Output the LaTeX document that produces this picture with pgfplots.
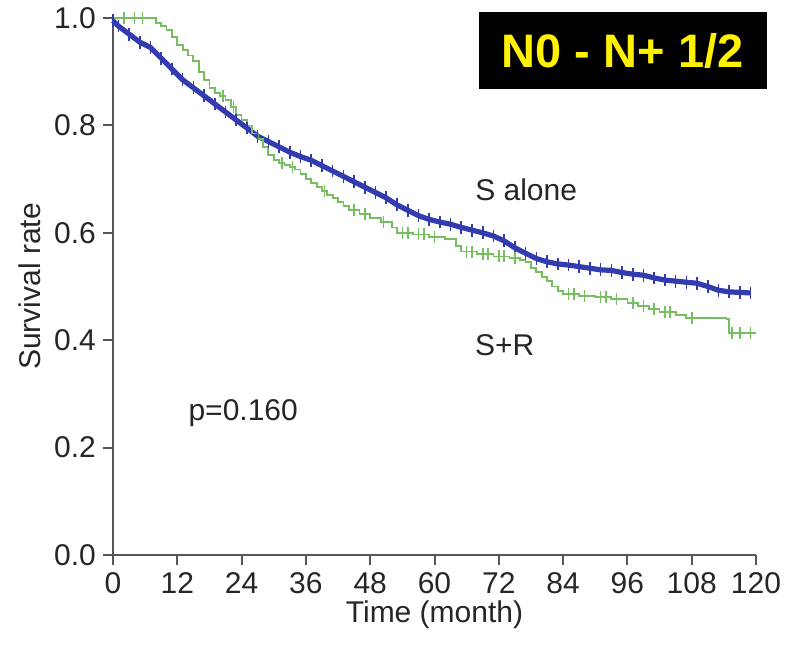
\documentclass[border=0pt]{standalone}
\usepackage{fontspec}
\setmainfont{Liberation Sans}
\usepackage{pgfplots}
\pgfplotsset{compat=1.18}
\definecolor{kmblue}{RGB}{50,60,175}
\definecolor{kmgreen}{RGB}{118,190,95}
\definecolor{axgray}{RGB}{85,85,85}
\begin{document}
\begin{tikzpicture}
\begin{axis}[
  scale only axis, width=321.5pt, height=268.5pt,
  at={(0,0)}, anchor=south west,
  xmin=0, xmax=120, ymin=0, ymax=1,
  axis x line=bottom, axis y line=left,
  axis line style={-, axgray, line width=1pt},
  every tick/.style={axgray, line width=1pt},
  tick align=outside, major tick length=5pt,
  xtick={0,12,...,120}, ytick={0,0.2,0.4,0.6,0.8,1.0},
  yticklabel style={/pgf/number format/.cd, fixed, fixed zerofill, precision=1},
  /pgf/number format/assume math mode=true,
  tick label style={font=\fontsize{15}{18}\selectfont, text=black!85},
  label style={font=\fontsize{15}{18}\selectfont, text=black!85},
  xlabel={Time (month)}, ylabel={Survival rate},
  xlabel style={at={(axis description cs:0.5,-0.112)}, anchor=center},
  ylabel style={at={(axis description cs:-0.129,0.5)}, anchor=center},
  clip=false,
]
% S alone (blue)
\addplot[kmblue, line width=2.6pt, mark=|, mark size=3.2pt, mark options={line width=0.8pt}] coordinates {
(0,0.995)(1,0.985)(3,0.97)(5,0.955)(7,0.945)(9,0.925)(11,0.905)(13,0.885)(15,0.87)(17,0.855)
(19,0.84)(21,0.825)(23,0.81)(25,0.795)(27,0.78)(29,0.77)(31,0.76)(33,0.75)(35,0.742)(37,0.735)
(39,0.725)(41,0.715)(43,0.705)(45,0.695)(47,0.685)(49,0.675)(51,0.665)(53,0.652)(55,0.642)(57,0.632)
(59,0.625)(61,0.62)(63,0.616)(65,0.61)(67,0.605)(69,0.6)(71,0.594)(73,0.585)(75,0.572)(77,0.562)
(79,0.552)(81,0.546)(83,0.542)(85,0.54)(87,0.537)(89,0.534)(91,0.531)(93,0.53)(95,0.526)(97,0.523)
(99,0.521)(101,0.516)(103,0.512)(105,0.51)(107,0.508)(109,0.506)(111,0.5)(113,0.493)(115,0.49)(117,0.489)(119,0.488)
};
% S+R (green)
\addplot[kmgreen, line width=0.9pt, const plot] coordinates {
(0,1.0)(7,1.0)(8,0.99)(9,0.985)(10,0.978)(11,0.965)(12,0.95)(13,0.94)(14,0.93)(15,0.92)
(16,0.9)(17,0.885)(18,0.87)(19,0.86)(20,0.855)(21,0.848)(22,0.835)(23,0.82)(24,0.81)(25,0.8)
(26,0.785)(27,0.775)(28,0.76)(29,0.745)(30,0.735)(31,0.73)(32,0.727)(33,0.722)(34,0.718)(35,0.71)
(36,0.7)(37,0.692)(38,0.685)(39,0.678)(40,0.67)(41,0.665)(42,0.658)(43,0.65)(44,0.642)(46,0.635)
(48,0.628)(50,0.62)(52,0.61)(53,0.6)(56,0.597)(59,0.592)(62,0.588)(64,0.575)(65,0.565)(68,0.56)
(71,0.556)(74,0.553)(76,0.55)(77,0.545)(78,0.535)(79,0.527)(80,0.518)(81,0.51)(82,0.5)(83,0.492)
(84,0.486)(87,0.483)(90,0.48)(93,0.476)(96,0.47)(98,0.463)(100,0.458)(102,0.452)(105,0.447)(107,0.441)
(114.5,0.44)(115,0.413)(120,0.413)
};
\addplot[kmgreen, only marks, mark=|, mark size=3pt, mark options={line width=0.8pt}] coordinates {
(2,1.0)(4,1.0)(5.5,1.0)(20.5,0.855)(22.5,0.835)(31.5,0.73)(33.5,0.722)(39.5,0.678)(45,0.642)(47,0.635)
(50.5,0.62)(54,0.6)(55,0.6)(57,0.597)(58,0.597)(60,0.592)(66,0.565)(67,0.565)(69,0.56)(70,0.56)
(72,0.556)(73,0.556)(75,0.553)(85,0.486)(86,0.486)(88,0.483)(91,0.48)(92,0.48)(94,0.476)(97,0.47)
(99,0.463)(101,0.458)(103,0.452)(104,0.452)(108,0.441)(115.5,0.413)(117,0.413)(119,0.413)
};
\node[font=\fontsize{15}{18}\selectfont, text=black!85] at (axis cs:77.1,0.68) {S alone};
\node[font=\fontsize{15}{18}\selectfont, text=black!85] at (axis cs:73.1,0.391) {S+R};
\node[font=\fontsize{15}{18}\selectfont, text=black!85] at (axis cs:24.3,0.264) {p=0.160};
\node[fill=black, text=yellow, minimum width=144pt, minimum height=38.5pt, inner sep=0pt,
      font=\fontsize{23.5}{26}\selectfont\bfseries] at (axis cs:95.1,0.9395) {N0 - N+ 1/2};
\end{axis}
\pgfresetboundingbox
\path[use as bounding box] (-56.5pt,-44.5pt) rectangle (339.5pt,277.5pt);
\end{tikzpicture}
\end{document}
